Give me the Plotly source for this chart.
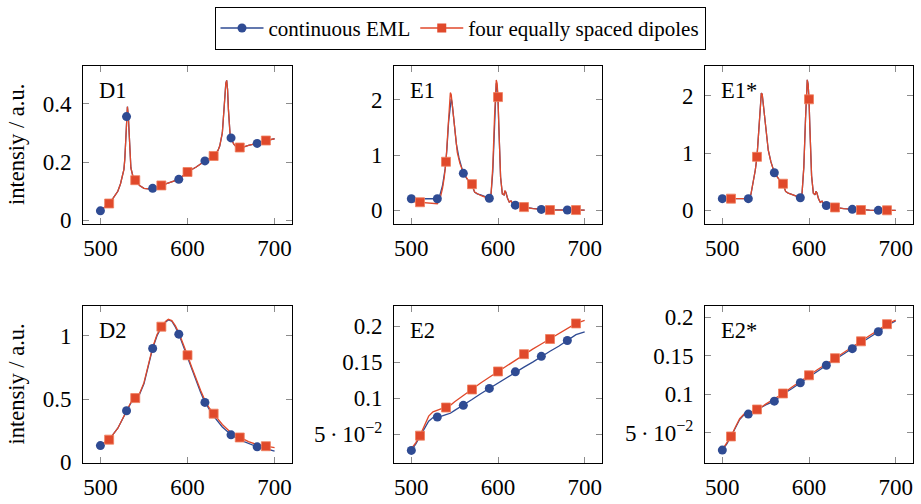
import plotly.graph_objects as go

# ---------------- data ----------------
# D1 (both models overlap)
d1_wl = [500,505,510,515,520,523,525,527,528,529,530,531,532,533,534,535,537,540,545,550,555,560,565,570,580,590,600,610,620,630,635,637,640,641,642,643,644,645,646,647,648,649,650,653,656,660,665,670,680,690,700]
d1_blue = [0.033,0.045,0.058,0.078,0.100,0.125,0.155,0.175,0.21,0.29,0.356,0.39,0.36,0.29,0.22,0.18,0.155,0.138,0.12,0.11,0.108,0.11,0.115,0.12,0.13,0.141,0.166,0.183,0.204,0.221,0.24,0.255,0.30,0.34,0.39,0.44,0.47,0.48,0.45,0.38,0.32,0.29,0.283,0.262,0.252,0.25,0.252,0.257,0.264,0.274,0.28]
d1_red = d1_blue

# E1
e1_wl_b = [500,510,520,530,533,536,539,541,543,545,546,547,549,552,555,560,565,570,573,576,580,585,590,592,594,596,597,598,599,600,601,602,603,605,607,608,609,611,613,615,617,620,625,630,640,650,660,670,680,690,700]
e1_blue = [0.21,0.21,0.21,0.21,0.28,0.45,0.75,1.1,1.6,1.95,2.02,1.95,1.6,1.2,0.95,0.67,0.55,0.45,0.33,0.30,0.28,0.25,0.22,0.30,0.70,1.5,2.0,2.3,2.25,2.0,1.5,1.0,0.6,0.3,0.28,0.35,0.33,0.22,0.15,0.17,0.12,0.094,0.075,0.06,0.035,0.018,0.01,0.008,0.006,0.005,0.005]
e1_wl_r = [500,510,520,530,533,536,538,540,542,544,545,546,548,550,553,556,560,565,570,573,576,580,585,590,592,594,596,597,598,599,600,601,602,603,605,607,608,609,611,613,615,617,620,625,630,640,650,660,670,680,690,700]
e1_red = [0.16,0.147,0.135,0.12,0.2,0.4,0.6,0.88,1.4,1.95,2.13,2.1,1.8,1.4,1.05,0.85,0.68,0.56,0.475,0.33,0.30,0.27,0.24,0.21,0.30,0.8,1.7,2.2,2.36,2.3,2.05,1.5,1.0,0.6,0.3,0.28,0.36,0.33,0.22,0.15,0.17,0.12,0.09,0.07,0.059,0.03,0.015,0.006,0.006,0.006,0.006,0.006]

# E1* (both models overlap)
e1s_wl = [500,510,520,530,533,536,538,540,542,544,545,546,548,550,553,556,560,565,570,573,576,580,585,590,592,594,596,597,598,599,600,601,602,603,605,607,608,609,611,613,615,617,620,625,630,640,650,660,670,680,690,700]
e1s_blue = [0.204,0.204,0.204,0.204,0.28,0.5,0.7,0.935,1.4,1.9,2.05,2.03,1.75,1.4,1.05,0.85,0.657,0.55,0.465,0.33,0.30,0.28,0.25,0.22,0.30,0.75,1.6,2.1,2.28,2.2,1.94,1.45,1.0,0.6,0.3,0.27,0.33,0.31,0.2,0.14,0.16,0.11,0.085,0.065,0.05,0.03,0.017,0.005,0.002,0.0,0.0,0.0]
e1s_red = e1s_blue

# D2
d2_wl = [500,510,520,530,535,540,545,550,555,560,565,570,575,578,582,586,590,595,600,605,610,615,620,625,630,640,650,660,670,680,690,695,700]
d2_blue = [0.133,0.18,0.27,0.408,0.47,0.50,0.54,0.62,0.75,0.90,1.0,1.065,1.11,1.125,1.115,1.07,1.013,0.92,0.83,0.73,0.64,0.555,0.474,0.415,0.365,0.28,0.218,0.178,0.148,0.123,0.108,0.10,0.09]
d2_red = [0.14,0.18,0.27,0.41,0.475,0.508,0.545,0.63,0.76,0.91,1.01,1.072,1.115,1.13,1.12,1.08,1.025,0.94,0.846,0.75,0.655,0.57,0.49,0.43,0.385,0.30,0.235,0.197,0.165,0.14,0.128,0.122,0.117]

# E2
e2_wl = [500,505,510,515,520,525,530,535,540,545,550,560,570,580,590,600,610,620,630,640,650,660,670,680,690,700]
e2_blue = [0.0275,0.036,0.047,0.058,0.068,0.073,0.0739,0.075,0.077,0.079,0.083,0.09,0.098,0.106,0.1135,0.121,0.129,0.1365,0.143,0.15,0.158,0.165,0.172,0.18,0.188,0.192]
e2_red = [0.03,0.038,0.048,0.062,0.075,0.081,0.083,0.085,0.087,0.09,0.095,0.104,0.112,0.121,0.129,0.137,0.145,0.153,0.161,0.168,0.175,0.182,0.189,0.196,0.2036,0.208]

# E2*
e2s_wl = e2_wl
e2s_blue = [0.0273,0.035,0.045,0.056,0.067,0.073,0.074,0.076,0.079,0.082,0.086,0.0908,0.10,0.107,0.1147,0.123,0.13,0.1374,0.145,0.152,0.159,0.166,0.174,0.181,0.189,0.195]
e2s_red = [0.028,0.036,0.045,0.057,0.068,0.074,0.0755,0.078,0.080,0.083,0.087,0.094,0.1008,0.109,0.117,0.1244,0.132,0.139,0.1466,0.154,0.161,0.1685,0.176,0.183,0.1908,0.196]

# markers (every 30 nm)
mk_blue_wl = [500,530,560,590,620,650,680]
mk_red_wl = [510,540,570,600,630,660,690]
d1_mb = [0.033,0.356,0.11,0.141,0.204,0.283,0.264]
d1_mr = [0.058,0.138,0.12,0.166,0.221,0.25,0.274]
e1_mb = [0.21,0.21,0.67,0.22,0.094,0.018,0.006]
e1_mr = [0.147,0.88,0.475,2.05,0.059,0.006,0.006]
e1s_mb = [0.204,0.204,0.657,0.22,0.085,0.017,0.0]
e1s_mr = [0.204,0.935,0.465,1.94,0.05,0.005,0.0]
d2_mb = [0.133,0.408,0.90,1.013,0.474,0.218,0.123]
d2_mr = [0.18,0.508,1.072,0.846,0.385,0.197,0.128]
e2_mb = [0.0275,0.0739,0.09,0.1135,0.1365,0.158,0.18]
e2_mr = [0.048,0.087,0.112,0.137,0.161,0.182,0.2036]
e2s_mb = [0.0273,0.074,0.0908,0.1147,0.1374,0.159,0.181]
e2s_mr = [0.045,0.080,0.1008,0.1244,0.1466,0.1685,0.1908]

panel_names = ["D1", "E1", "E1*", "D2", "E2", "E2*"]
series_names = ["continuous EML", "four equally spaced dipoles"]
x_ticks = [500, 600, 700]
y_label = "intensiy / a.u."

# ---------------- layout geometry ----------------
W, H = 921, 504
cols = [(83, 292), (394, 602), (705, 913)]
rows = [(67, 229), (314, 475)]
BLUE = "#2f4b93"
RED = "#e0492b"
FONT = "Times New Roman, Liberation Serif, Times, serif"
FS_TICK = 23
FS_LAB = 22.5
FS_LEG = 21

panels = [
    dict(wlb=d1_wl, yb=d1_blue, wlr=d1_wl, yr=d1_red, mb=d1_mb, mr=d1_mr,
         yrange=[-0.011, 0.529], yt=[0, 0.2, 0.4], ytt=["0", "0.2", "0.4"]),
    dict(wlb=e1_wl_b, yb=e1_blue, wlr=e1_wl_r, yr=e1_red, mb=e1_mb, mr=e1_mr,
         yrange=[-0.24, 2.61], yt=[0, 1, 2], ytt=["0", "1", "2"]),
    dict(wlb=e1s_wl, yb=e1s_blue, wlr=e1s_wl, yr=e1s_red, mb=e1s_mb, mr=e1s_mr,
         yrange=[-0.233, 2.52], yt=[0, 1, 2], ytt=["0", "1", "2"]),
    dict(wlb=d2_wl, yb=d2_blue, wlr=d2_wl, yr=d2_red, mb=d2_mb, mr=d2_mr,
         yrange=[-0.003, 1.233], yt=[0, 0.5, 1], ytt=["0", "0.5", "1"]),
    dict(wlb=e2_wl, yb=e2_blue, wlr=e2_wl, yr=e2_red, mb=e2_mb, mr=e2_mr,
         yrange=[0.0103, 0.2274], yt=[0.05, 0.1, 0.15, 0.2],
         ytt=["5\u2009·\u200910<sup>−2</sup>", "0.1", "0.15", "0.2"]),
    dict(wlb=e2s_wl, yb=e2s_blue, wlr=e2s_wl, yr=e2s_red, mb=e2s_mb, mr=e2s_mr,
         yrange=[0.0108, 0.214], yt=[0.05, 0.1, 0.15, 0.2],
         ytt=["5\u2009·\u200910<sup>−2</sup>", "0.1", "0.15", "0.2"]),
]

fig = go.Figure()
layout = dict(
    width=W, height=H, margin=dict(l=0, r=0, t=0, b=0),
    paper_bgcolor="white", plot_bgcolor="white",
    font=dict(family=FONT, size=FS_LAB, color="black"),
    showlegend=True,
    legend=dict(orientation="h", x=460 / W, xanchor="center", y=1 - 6 / H, yanchor="top",
                bordercolor="black", borderwidth=1, bgcolor="white", itemwidth=43,
                font=dict(family=FONT, size=FS_LEG, color="black")),
)
annotations = []

for i, p in enumerate(panels):
    r, c = divmod(i, 3)
    x0, x1 = cols[c]
    y0, y1 = rows[r]
    sfx = "" if i == 0 else str(i + 1)
    xa, ya = "x" + sfx, "y" + sfx
    common = dict(showline=True, linecolor="black", linewidth=1, mirror="allticks",
                  ticks="inside", ticklen=6, tickwidth=1, tickcolor="#8c8c8c",
                  showgrid=False, zeroline=False,
                  tickfont=dict(family=FONT, size=FS_TICK, color="black"))
    layout["xaxis" + sfx] = dict(domain=[x0 / W, x1 / W], anchor=ya, range=[480, 720],
                                 tickvals=x_ticks, ticktext=[str(v) for v in x_ticks],
                                 ticklabelstandoff=4, **common)
    layout["yaxis" + sfx] = dict(domain=[1 - y1 / H, 1 - y0 / H], anchor=xa, range=p["yrange"],
                                 tickvals=p["yt"], ticktext=p["ytt"], ticklabelstandoff=6, **common)
    fig.add_trace(go.Scatter(x=p["wlb"], y=p["yb"], mode="lines", line=dict(color=BLUE, width=1.3),
                             xaxis=xa, yaxis=ya, showlegend=False, hoverinfo="skip"))
    fig.add_trace(go.Scatter(x=p["wlr"], y=p["yr"], mode="lines", line=dict(color=RED, width=1.3),
                             xaxis=xa, yaxis=ya, showlegend=False, hoverinfo="skip"))
    fig.add_trace(go.Scatter(x=mk_blue_wl, y=p["mb"], mode="markers",
                             marker=dict(symbol="circle", size=9, color=BLUE),
                             xaxis=xa, yaxis=ya, showlegend=False))
    fig.add_trace(go.Scatter(x=mk_red_wl, y=p["mr"], mode="markers",
                             marker=dict(symbol="square", size=9, color=RED,
                                         line=dict(color="#f08060", width=0.8)),
                             xaxis=xa, yaxis=ya, showlegend=False))
    annotations.append(dict(text=panel_names[i], xref="paper", yref="paper",
                            x=(x0 + 14) / W, y=1 - (y0 + 25) / H, xanchor="left", yanchor="middle",
                            showarrow=False, font=dict(family=FONT, size=FS_LAB, color="black")))

for r, (y0, y1) in enumerate(rows):
    annotations.append(dict(text=y_label, xref="paper", yref="paper", x=17 / W,
                            y=1 - (y0 + y1) / 2 / H, xanchor="center", yanchor="middle",
                            textangle=-90, showarrow=False,
                            font=dict(family=FONT, size=FS_LAB, color="black")))

# legend entries
fig.add_trace(go.Scatter(x=[None], y=[None], mode="lines+markers", name=series_names[0],
                         line=dict(color=BLUE, width=1.3), marker=dict(symbol="circle", size=9, color=BLUE)))
fig.add_trace(go.Scatter(x=[None], y=[None], mode="lines+markers", name=series_names[1],
                         line=dict(color=RED, width=1.3), marker=dict(symbol="square", size=9, color=RED)))

layout["annotations"] = annotations
fig.update_layout(**layout)
fig.write_html("out.html")
